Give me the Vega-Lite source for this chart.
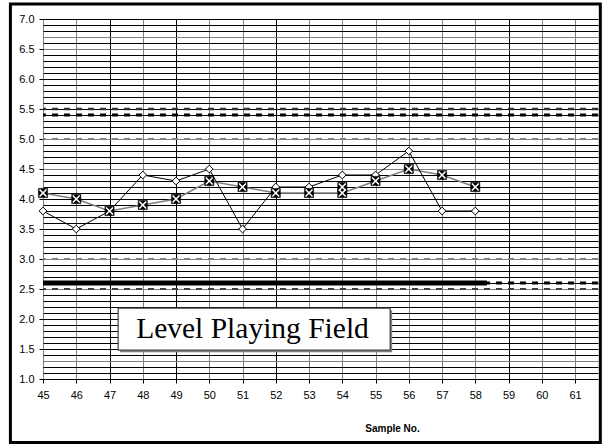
{
  "$schema": "https://vega.github.io/schema/vega-lite/v6.json",
  "width": 555,
  "height": 360,
  "autosize": "none",
  "padding": {"left": 43, "top": 19, "right": 4, "bottom": 65},
  "background": "white",
  "config": {"view": {"stroke": null}, "font": "Liberation Sans"},
  "resolve": {"axis": {"x": "independent", "y": "independent"}},
  "datasets": {
    "samples": [
      {"sample": 45, "series": "A", "value": 3.8},
      {"sample": 46, "series": "A", "value": 3.5},
      {"sample": 47, "series": "A", "value": 3.8},
      {"sample": 48, "series": "A", "value": 4.4},
      {"sample": 49, "series": "A", "value": 4.3},
      {"sample": 50, "series": "A", "value": 4.5},
      {"sample": 51, "series": "A", "value": 3.5},
      {"sample": 52, "series": "A", "value": 4.2},
      {"sample": 53, "series": "A", "value": 4.2},
      {"sample": 54, "series": "A", "value": 4.4},
      {"sample": 55, "series": "A", "value": 4.4},
      {"sample": 56, "series": "A", "value": 4.8},
      {"sample": 57, "series": "A", "value": 3.8},
      {"sample": 58, "series": "A", "value": 3.8},
      {"sample": 45, "series": "B", "value": 4.1},
      {"sample": 46, "series": "B", "value": 4.0},
      {"sample": 47, "series": "B", "value": 3.8},
      {"sample": 48, "series": "B", "value": 3.9},
      {"sample": 49, "series": "B", "value": 4.0},
      {"sample": 50, "series": "B", "value": 4.3},
      {"sample": 51, "series": "B", "value": 4.2},
      {"sample": 52, "series": "B", "value": 4.1},
      {"sample": 53, "series": "B", "value": 4.1},
      {"sample": 54, "series": "B", "value": 4.1},
      {"sample": 55, "series": "B", "value": 4.3},
      {"sample": 56, "series": "B", "value": 4.5},
      {"sample": 57, "series": "B", "value": 4.4},
      {"sample": 58, "series": "B", "value": 4.2},
      {"sample": 54, "series": "C", "value": 4.2}
    ],
    "limits": [
      {"name": "USL", "value": 5.5},
      {"name": "UCL", "value": 5.4},
      {"name": "UWL", "value": 5.0},
      {"name": "LWL", "value": 3.0},
      {"name": "LCL", "value": 2.6},
      {"name": "LSL", "value": 2.5}
    ],
    "runs": [
      {"name": "LCL", "value": 2.6, "from": 45, "to": 58.35}
    ]
  },
  "layer": [
    {
      "data": {"name": "samples"},
      "transform": [{"filter": "datum.series === 'A'"}],
      "mark": {"type": "line", "color": "black", "strokeWidth": 1, "opacity": 0},
      "encoding": {
        "x": {
          "field": "sample", "type": "quantitative",
          "scale": {"domain": [45, 61.69], "nice": false, "zero": false},
          "axis": {
            "values": [45, 46, 47, 48, 49, 50, 51, 52, 53, 54, 55, 56, 57, 58, 59, 60, 61],
            "grid": true,
            "gridColor": {"condition": {"test": "indexof([47, 49, 52, 59], datum.value) >= 0", "value": "black"}, "value": "#808080"},
            "gridOpacity": {"condition": {"test": "datum.value === 45", "value": 0}, "value": 1},
            "gridWidth": 1,
            "domain": false,
            "ticks": true,
            "tickColor": "black",
            "tickSize": 4,
            "labelFontSize": 11,
            "labelColor": "black",
            "labelPadding": 6,
            "labelFlush": false,
            "labelOverlap": false,
            "title": "Sample No.",
            "titleFontSize": 10,
            "titleFontWeight": "bold",
            "titleColor": "black",
            "titleX": 349,
            "titleY": 49,
            "titleBaseline": "middle"
          }
        },
        "y": {
          "field": "value", "type": "quantitative",
          "scale": {"domain": [1, 7], "nice": false, "zero": false},
          "axis": {
            "values": [1, 1.1, 1.2, 1.3, 1.4, 1.5, 1.6, 1.7, 1.8, 1.9, 2, 2.1, 2.2, 2.3, 2.4, 2.5, 2.6, 2.7, 2.8, 2.9, 3, 3.1, 3.2, 3.3, 3.4, 3.5, 3.6, 3.7, 3.8, 3.9, 4, 4.1, 4.2, 4.3, 4.4, 4.5, 4.6, 4.7, 4.8, 4.9, 5, 5.1, 5.2, 5.3, 5.4, 5.5, 5.6, 5.7, 5.8, 5.9, 6, 6.1, 6.2, 6.3, 6.4, 6.5, 6.6, 6.7, 6.8, 6.9, 7],
            "grid": true,
            "gridColor": {"condition": {"test": "indexof([13, 25, 30, 45, 50, 65, 67], round(datum.value * 10)) >= 0", "value": "#808080"}, "value": "black"},
            "gridWidth": 1,
            "domain": true,
            "domainColor": "black",
            "domainDash": [1, 1],
            "domainWidth": 1,
            "tickColor": "black",
            "tickSize": {"condition": {"test": "abs(datum.value * 2 - round(datum.value * 2)) < 0.001", "value": 4}, "value": 0},
            "labelExpr": "abs(datum.value * 2 - round(datum.value * 2)) < 0.001 ? format(datum.value, '.1f') : ''",
            "labelFontSize": 11,
            "labelColor": "black",
            "labelPadding": 5,
            "labelOverlap": false,
            "labelBound": false,
            "labelFlush": false,
            "title": null
          }
        }
      }
    },
    {
      "data": {"name": "limits"},
      "transform": [{"filter": "datum.name === 'USL'"}],
      "mark": {"type": "rule", "color": "#303030", "strokeWidth": 2.5, "strokeDash": [6, 6]},
      "encoding": {"y": {"field": "value", "type": "quantitative", "axis": null}}
    },
    {
      "data": {"name": "limits"},
      "transform": [{"filter": "datum.name === 'UCL' || datum.name === 'LCL'"}],
      "mark": {"type": "rule", "color": "black", "strokeWidth": 3, "strokeDash": [6, 6]},
      "encoding": {"y": {"field": "value", "type": "quantitative", "axis": null}}
    },
    {
      "data": {"name": "limits"},
      "transform": [{"filter": "datum.name === 'UWL' || datum.name === 'LWL'"}],
      "mark": {"type": "rule", "color": "#808080", "strokeWidth": 2, "strokeDash": [6, 6]},
      "encoding": {"y": {"field": "value", "type": "quantitative", "axis": null}}
    },
    {
      "data": {"name": "limits"},
      "transform": [{"filter": "datum.name === 'LSL'"}],
      "mark": {"type": "rule", "color": "#404040", "strokeWidth": 2, "strokeDash": [6, 6]},
      "encoding": {"y": {"field": "value", "type": "quantitative", "axis": null}}
    },
    {
      "data": {"name": "runs"},
      "mark": {"type": "rule", "color": "black", "strokeWidth": 5},
      "encoding": {
        "x": {"field": "from", "type": "quantitative", "axis": null},
        "x2": {"field": "to"},
        "y": {"field": "value", "type": "quantitative", "axis": null}
      }
    },
    {
      "data": {"values": [{}]},
      "mark": {"type": "rect", "fill": "#808080", "xOffset": 2, "x2Offset": 2, "yOffset": 2, "y2Offset": 2},
      "encoding": {
        "x": {"datum": 47.26, "type": "quantitative", "axis": null},
        "x2": {"datum": 55.44},
        "y": {"datum": 2.18, "type": "quantitative", "axis": null},
        "y2": {"datum": 1.48}
      }
    },
    {
      "data": {"values": [{}]},
      "mark": {"type": "rect", "fill": "white", "stroke": "#404040", "strokeWidth": 1.2},
      "encoding": {
        "x": {"datum": 47.26, "type": "quantitative", "axis": null},
        "x2": {"datum": 55.44},
        "y": {"datum": 2.18, "type": "quantitative", "axis": null},
        "y2": {"datum": 1.48}
      }
    },
    {
      "data": {"values": [{}]},
      "mark": {"type": "text", "text": "Level Playing Field", "font": "Liberation Serif", "fontSize": 29.5, "color": "black", "align": "center", "baseline": "middle"},
      "encoding": {
        "x": {"datum": 51.3, "type": "quantitative", "axis": null},
        "y": {"datum": 1.83, "type": "quantitative", "axis": null}
      }
    },
    {
      "data": {"name": "samples"},
      "transform": [{"filter": "datum.series === 'B'"}],
      "mark": {"type": "line", "color": "#808080", "strokeWidth": 1.5},
      "encoding": {
        "x": {"field": "sample", "type": "quantitative", "axis": null},
        "y": {"field": "value", "type": "quantitative", "axis": null}
      }
    },
    {
      "data": {"name": "samples"},
      "transform": [{"filter": "datum.series === 'A'"}],
      "mark": {"type": "line", "color": "black", "strokeWidth": 1},
      "encoding": {
        "x": {"field": "sample", "type": "quantitative", "axis": null},
        "y": {"field": "value", "type": "quantitative", "axis": null}
      }
    },
    {
      "data": {"name": "samples"},
      "transform": [{"filter": "datum.series === 'A'"}],
      "mark": {"type": "point", "shape": "diamond", "size": 60, "filled": true, "fill": "white", "stroke": "black", "strokeWidth": 1, "opacity": 1},
      "encoding": {
        "x": {"field": "sample", "type": "quantitative", "axis": null},
        "y": {"field": "value", "type": "quantitative", "axis": null}
      }
    },
    {
      "data": {"name": "samples"},
      "transform": [{"filter": "datum.series !== 'A'"}],
      "mark": {"type": "point", "shape": "square", "size": 85, "filled": true, "fill": "black", "stroke": "black", "strokeWidth": 0.5, "opacity": 1},
      "encoding": {
        "x": {"field": "sample", "type": "quantitative", "axis": null},
        "y": {"field": "value", "type": "quantitative", "axis": null}
      }
    },
    {
      "data": {"name": "samples"},
      "transform": [{"filter": "datum.series !== 'A'"}],
      "mark": {"type": "point", "shape": "M-0.75,-0.75L0.75,0.75M-0.75,0.75L0.75,-0.75", "size": 85, "filled": false, "stroke": "white", "strokeWidth": 1.6, "opacity": 1},
      "encoding": {
        "x": {"field": "sample", "type": "quantitative", "axis": null},
        "y": {"field": "value", "type": "quantitative", "axis": null}
      }
    },
    {
      "data": {"values": [{}]},
      "mark": {"type": "rect", "fill": null, "stroke": "black", "strokeWidth": 3, "clip": false},
      "encoding": {
        "x": {"datum": 44.02, "type": "quantitative", "axis": null},
        "x2": {"datum": 61.76},
        "y": {"datum": 7.25, "type": "quantitative", "axis": null},
        "y2": {"datum": -0.06}
      }
    }
  ]
}
